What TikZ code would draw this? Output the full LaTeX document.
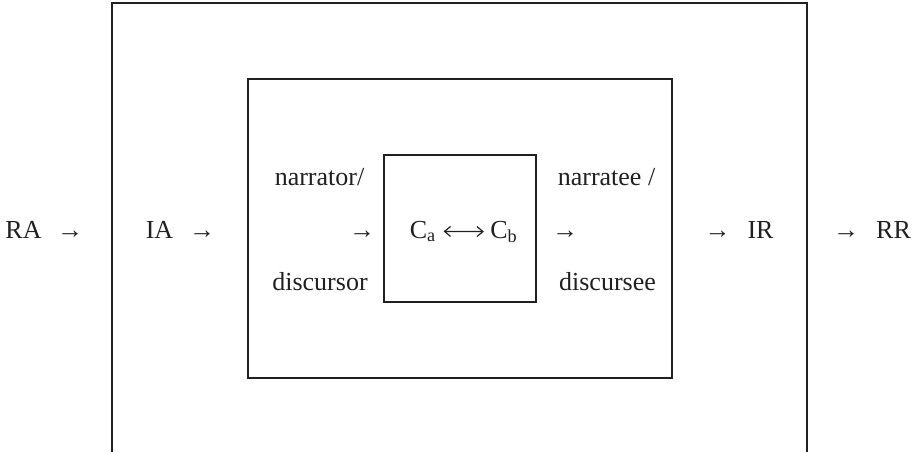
\documentclass[tikz,border=0pt]{standalone}
\usepackage{fontspec}
\setmainfont{Liberation Serif}
\usetikzlibrary{arrows.meta}
\definecolor{ink}{HTML}{231F20}
\tikzset{frame/.style={rectangle,draw=ink,line width=0.7pt,inner sep=0pt},lbl/.style={text=ink,inner sep=0pt,anchor=base,font=\fontsize{13}{15}\selectfont},dbl/.style={{Straight Barb[length=3pt,width=5pt]}-{Straight Barb[length=3pt,width=5pt]},draw=ink,line width=0.6pt,shorten <=3.5pt,shorten >=3pt}}

\begin{document}
\begin{tikzpicture}[x=0.5pt,y=-0.5pt]
\useasboundingbox (0,0) rectangle (914,452);
% open outer frame, runs off the bottom
\draw[ink,line width=0.8pt] (112,452) -- (112,3) -- (807,3) -- (807,452);
\node[frame,minimum width=212pt,minimum height=149.5pt] (story) at (460,228.5) {};
\node[frame,minimum width=76pt,minimum height=73.5pt] (core) at (460,228.5) {};
% middle row
\node[lbl] (ra) at (23.5,238) {RA};
\node[lbl] (raar) at (70,238) {→};
\node[lbl] (ia) at (159.5,238) {IA};
\node[lbl] (iaar) at (202,238) {→};
\node[lbl] (nrar) at (362,238) {→};
\node[lbl] (ca) at (423,238) {C\textsubscript{a}};
\node[lbl] (cb) at (504,238) {C\textsubscript{b}};
\node[lbl] (neear) at (565,238) {→};
\node[lbl] (irar) at (717.5,238) {→};
\node[lbl] (ir) at (760.5,238) {IR};
\node[lbl] (rrar) at (846,238) {→};
\node[lbl] (rr) at (893.5,238) {RR};
% upper and lower rows
\node[lbl] (nr) at (319.5,185) {narrator/};
\node[lbl] (ds) at (320,290) {discursor};
\node[lbl] (nee) at (606.5,185) {narratee /};
\node[lbl] (dsee) at (607.5,290) {discursee};
\draw[dbl] (ca) -- (cb);
\end{tikzpicture}
\end{document}
